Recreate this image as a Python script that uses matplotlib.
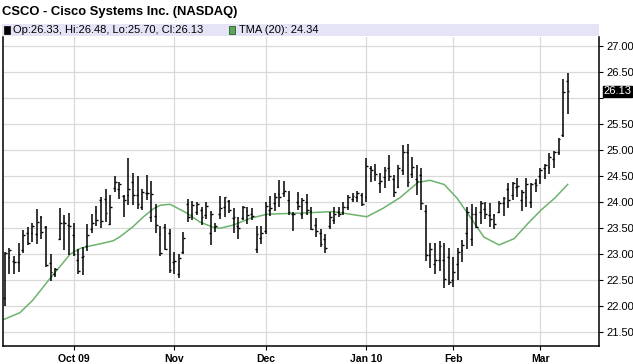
import matplotlib
matplotlib.use("Agg")
import matplotlib.pyplot as plt
from matplotlib.patches import Rectangle

plt.rcParams['font.family'] = ['Liberation Sans', 'DejaVu Sans']

# daily bars, Sep 10 2009 .. Mar 9 2010 (trading-day index)
opens = [22.17, 22.94, 22.88, 22.85, 23.08, 23.41, 23.40, 23.38, 23.72, 23.53,
         22.84, 22.63, 23.29, 23.62, 23.56, 23.37, 22.90, 22.95, 23.15, 23.49,
         23.83, 24.04, 24.07, 23.59, 24.28, 24.26, 24.12, 24.13, 24.38, 24.13,
         23.91, 24.18, 23.72, 23.74, 23.38, 23.53, 23.40, 22.85, 22.63, 23.04,
         23.97, 23.78, 23.81, 23.85, 23.75, 23.40, 23.53, 23.78, 23.91, 24.02,
         23.69, 23.54, 23.69, 23.83, 23.77, 23.11, 23.32, 23.44, 23.85, 23.99,
         24.15, 24.18, 24.04, 23.78, 24.01, 23.78, 24.01, 23.83, 23.56, 23.40,
         23.30, 23.54, 23.65, 23.81, 23.81, 23.91, 24.07, 24.10, 24.13, 24.10,
         24.65, 24.58, 24.36, 24.49, 24.65, 24.45, 24.29, 24.62, 24.97, 24.55,
         24.44, 24.52, 23.83, 22.98, 22.81, 22.90, 22.90, 22.95, 22.50, 22.82,
         23.09, 23.41, 23.30, 23.78, 23.81, 23.86, 23.75, 23.75, 23.81, 23.99,
         24.26, 24.13, 24.29, 24.05, 24.10, 24.01, 24.36, 24.50, 24.65, 24.68,
         24.82, 24.96, 25.29, 26.33]
highs = [23.05, 23.12, 22.96, 23.22, 23.46, 23.53, 23.61, 23.87, 23.74, 23.54,
         23.00, 22.74, 23.89, 23.75, 23.80, 23.60, 23.11, 23.14, 23.58, 23.78,
         23.93, 24.10, 24.26, 24.13, 24.50, 24.39, 24.13, 24.85, 24.56, 24.50,
         24.26, 24.52, 24.40, 23.96, 23.54, 23.59, 23.49, 23.04, 23.01, 23.43,
         24.07, 24.02, 24.00, 23.91, 24.00, 23.83, 23.61, 24.12, 24.10, 24.05,
         23.88, 23.72, 23.93, 23.90, 23.89, 23.54, 23.55, 24.00, 24.11, 24.18,
         24.42, 24.41, 24.21, 23.81, 24.20, 24.08, 24.15, 23.91, 23.69, 23.49,
         23.39, 23.81, 23.91, 23.91, 24.00, 24.13, 24.18, 24.21, 24.17, 24.85,
         24.69, 24.74, 24.56, 24.67, 24.90, 24.52, 24.71, 25.10, 25.12, 24.87,
         24.71, 24.65, 23.94, 23.21, 23.21, 23.26, 23.22, 23.13, 22.95, 23.13,
         23.27, 23.91, 23.96, 23.91, 24.03, 24.00, 23.99, 23.78, 24.02, 24.10,
         24.37, 24.39, 24.47, 24.23, 24.47, 24.37, 24.45, 24.65, 24.74, 24.94,
         24.99, 25.24, 26.36, 26.48]
lows = [22.00, 22.63, 22.63, 22.66, 23.03, 23.17, 23.24, 23.20, 23.30, 22.76,
        22.49, 22.56, 23.28, 23.08, 22.98, 22.97, 22.63, 22.60, 23.06, 23.41,
        23.55, 23.51, 23.62, 23.57, 24.19, 24.07, 23.71, 23.94, 23.95, 23.86,
        23.85, 24.04, 23.62, 23.40, 22.97, 23.08, 22.64, 22.63, 22.55, 23.01,
        23.62, 23.65, 23.75, 23.56, 23.68, 23.17, 23.42, 23.67, 23.72, 23.79,
        23.41, 23.30, 23.65, 23.59, 23.65, 23.02, 23.20, 23.39, 23.74, 23.84,
        23.91, 24.10, 23.76, 23.45, 23.85, 23.67, 23.76, 23.47, 23.33, 23.14,
        23.03, 23.49, 23.59, 23.71, 23.75, 23.85, 24.00, 24.01, 23.93, 24.00,
        24.39, 24.41, 24.17, 24.28, 24.41, 24.09, 24.27, 24.52, 24.30, 24.46,
        24.13, 23.85, 22.87, 22.74, 22.63, 22.68, 22.36, 22.42, 22.38, 22.50,
        22.85, 23.11, 23.15, 23.51, 23.59, 23.67, 23.53, 23.49, 23.79, 23.73,
        23.89, 24.05, 24.10, 23.83, 23.91, 23.88, 24.20, 24.35, 24.44, 24.54,
        24.66, 24.90, 25.26, 25.70]
closes = [23.03, 23.09, 22.85, 23.01, 23.37, 23.22, 23.54, 23.62, 23.42, 22.79,
          22.66, 22.72, 23.61, 23.60, 23.55, 23.01, 22.67, 22.96, 23.37, 23.61,
          23.65, 23.64, 23.79, 23.91, 24.38, 24.35, 24.04, 24.26, 24.13, 23.96,
          24.20, 24.17, 24.15, 23.56, 23.03, 23.11, 22.69, 22.88, 22.92, 23.31,
          23.72, 23.94, 23.97, 23.72, 23.92, 23.77, 23.54, 23.89, 24.09, 23.85,
          23.72, 23.50, 23.90, 23.76, 23.74, 23.38, 23.41, 23.93, 23.88, 24.09,
          24.09, 24.21, 23.81, 23.78, 23.92, 24.04, 23.85, 23.48, 23.44, 23.19,
          23.12, 23.72, 23.78, 23.78, 23.91, 24.09, 24.12, 24.17, 23.96, 24.69,
          24.62, 24.55, 24.41, 24.62, 24.50, 24.20, 24.65, 24.97, 24.39, 24.68,
          24.41, 23.99, 22.98, 23.11, 22.90, 23.15, 22.53, 22.47, 22.66, 23.04,
          23.17, 23.81, 23.78, 23.52, 23.99, 23.77, 23.67, 23.59, 23.99, 24.08,
          24.05, 24.36, 24.31, 24.20, 24.35, 24.34, 24.33, 24.62, 24.71, 24.87,
          24.97, 25.21, 26.12, 26.13]

# TMA(20) at a set of bar positions
tma_x = [-0.2, 3.3, 6.1, 9.9, 13.6, 14.2, 16.4, 18.6, 20.8, 23.7, 25.2, 28.0,
         30.3, 32.4, 33.9, 36.1, 39.8, 42.6, 45.5, 47.0, 49.9, 53.6, 57.3, 64.5,
         71.7, 75.4, 79.1, 82.6, 86.4, 90.3, 92.9, 96.0, 98.8, 101.9, 104.7, 108.0,
         111.3, 114.3, 117.2, 120.2, 123.0]
tma_y = [21.75, 21.88, 22.12, 22.54, 22.93, 23.00, 23.11, 23.16, 23.20, 23.26, 23.34, 23.53,
         23.72, 23.87, 23.94, 23.96, 23.79, 23.62, 23.52, 23.50, 23.56, 23.69, 23.77, 23.79,
         23.82, 23.77, 23.72, 23.88, 24.09, 24.38, 24.42, 24.34, 24.08, 23.69, 23.33, 23.18,
         23.30, 23.59, 23.85, 24.08, 24.34]

month_pos = [15, 37, 57, 79, 98, 117]
month_labels = ['Oct 09', 'Nov', 'Dec', 'Jan 10', 'Feb', 'Mar']
price_ticks = [21.5, 22.0, 22.5, 23.0, 23.5, 24.0, 24.5, 25.0, 25.5, 26.0, 26.5, 27.0]

W, H = 633, 364
fig = plt.figure(figsize=(W / 100, H / 100), dpi=100)
ax = fig.add_axes([2.5 / W, 1 - 346 / H, (599 - 2.5) / W, (346 - 37) / H])

n = len(closes)
idx = list(range(n))
tk = 0.4
ax.vlines(idx, lows, highs, color='black', lw=1.1, zorder=3)
ax.hlines(opens, [i - tk for i in idx], idx, color='black', lw=1.0, zorder=3)
ax.hlines(closes, idx, [i + tk for i in idx], color='black', lw=1.0, zorder=3)

ax.plot(tma_x, tma_y, color='#6db36d', lw=1.1, zorder=2)

ymin, ymax = 21.24, 27.17
ax.set_xlim(-0.52, 129.85)
ax.set_ylim(ymin, ymax)

# the 26.00 label is hidden behind the last-close marker
last = closes[-1]
ax.set_yticks(price_ticks)
ax.set_yticklabels(['' if abs(v - last) < 0.2 else '%.2f' % v for v in price_ticks])
ax.yaxis.tick_right()
ax.set_xticks(month_pos)
ax.set_xticklabels(month_labels, fontweight='bold')
ax.tick_params(axis='y', length=3, width=0.8, pad=2, labelsize=8, colors='black')
ax.tick_params(axis='x', length=3, width=0.8, pad=3, labelsize=7.5)
ax.grid(True, color='#d9d9d9', lw=0.9)
ax.set_axisbelow(True)

for s in ['left', 'bottom', 'right']:
    ax.spines[s].set_color('black')
    ax.spines[s].set_linewidth(1.1)
ax.spines['top'].set_visible(False)

# current close marker on the price scale
ax.text(1.008, (last - ymin) / (ymax - ymin), '%.2f' % last,
        transform=ax.transAxes, fontsize=8, color='white', va='center', ha='left',
        bbox=dict(boxstyle='square,pad=0.05', fc='black', ec='black'), zorder=5)

# title and legend band
fig.text(2 / W, 1 - 12 / H, 'CSCO - Cisco Systems Inc. (NASDAQ)', fontsize=9.4,
         fontweight='bold', va='center', ha='left')
fig.patches.append(Rectangle((2 / W, 1 - 36 / H), (599 - 2) / W, 12 / H,
                             transform=fig.transFigure, fc='#e4e4f6', ec='none'))
fig.patches.append(Rectangle((3.5 / W, 1 - 33.5 / H), 6 / W, 7 / H,
                             transform=fig.transFigure, fc='black', ec='black', lw=0.5))
fig.text(13 / W, 1 - 30 / H, 'Op:26.33, Hi:26.48, Lo:25.70, Cl:26.13', fontsize=8,
         va='center', ha='left')
fig.patches.append(Rectangle((229 / W, 1 - 33.5 / H), 6 / W, 7 / H,
                             transform=fig.transFigure, fc='#5aa55a', ec='#2a5a2a', lw=0.6))
fig.text(239 / W, 1 - 30 / H, 'TMA (20): 24.34', fontsize=8, va='center', ha='left')

fig.savefig('out.png', dpi=100)
